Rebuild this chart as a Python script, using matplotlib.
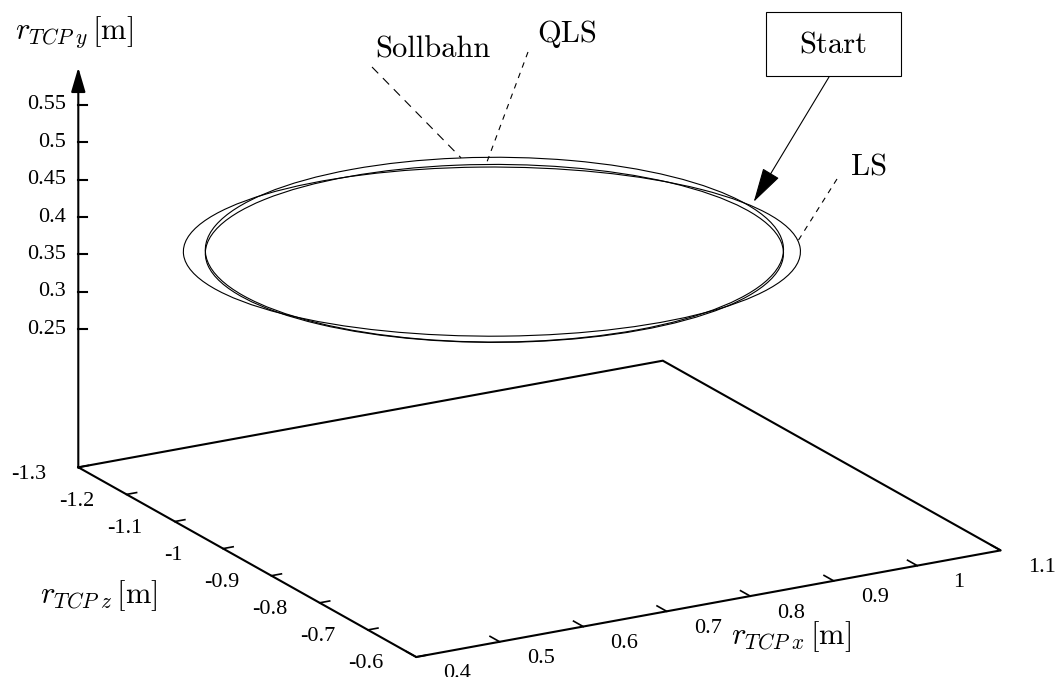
import numpy as np
import matplotlib
matplotlib.use("Agg")
import matplotlib.pyplot as plt
from matplotlib.patches import Ellipse, Rectangle
from matplotlib.transforms import Affine2D

plt.rcParams["mathtext.fontset"] = "cm"

# ----- data
x_ticks = [0.4, 0.5, 0.6, 0.7, 0.8, 0.9, 1.0, 1.1]
x_tick_labels = ["0.4", "0.5", "0.6", "0.7", "0.8", "0.9", "1", "1.1"]
z_ticks = [-1.3, -1.2, -1.1, -1.0, -0.9, -0.8, -0.7, -0.6]
z_tick_labels = ["-1.3", "-1.2", "-1.1", "-1", "-0.9", "-0.8", "-0.7", "-0.6"]
y_ticks = [0.25, 0.3, 0.35, 0.4, 0.45, 0.5, 0.55]
y_tick_labels = ["0.25", "0.3", "0.35", "0.4", "0.45", "0.5", "0.55"]

# TCP paths: ellipses in the x-z plane at height y (angle in the x-z plane, deg)
path_names = ["Sollbahn", "QLS", "LS"]
center_x = [0.696, 0.696, 0.693]
center_y = [0.423, 0.418, 0.421]
center_z = [-0.95, -0.95, -0.95]
radius_x = [0.301, 0.300, 0.320]
radius_z = [0.296, 0.286, 0.272]
path_angle = [0.0, 22.0, 27.4]

# ----- projection (screen pixels), gnuplot-like oblique view
X_MIN, X_MAX = 0.4, 1.1
Z_MIN, Z_MAX = -1.3, -0.6
Y_BASE, Y_TOP = 0.0655, 0.6
ORIGIN = (78.3, 467.3)
EX = (835.0, -152.3)    # px per m along x
EZ = (482.7, 271.0)     # px per m along z
PX_PER_M_Y = 748.0


def proj(x, y, z):
    u = ORIGIN[0] + (x - X_MIN) * EX[0] + (z - Z_MIN) * EZ[0]
    v = ORIGIN[1] + (x - X_MIN) * EX[1] + (z - Z_MIN) * EZ[1] - (y - Y_BASE) * PX_PER_M_Y
    return u, v


def plane(y):
    """affine map (x, z) -> screen for the plane at height y"""
    u0, v0 = proj(0.0, y, 0.0)
    return Affine2D(np.array([[EX[0], EZ[0], u0], [EX[1], EZ[1], v0], [0, 0, 1]]))


def on_path(i, theta_deg):
    t = np.radians(theta_deg)
    a = np.radians(path_angle[i])
    dx, dz = radius_x[i] * np.cos(t), radius_z[i] * np.sin(t)
    return proj(center_x[i] + dx * np.cos(a) - dz * np.sin(a), center_y[i],
                center_z[i] + dx * np.sin(a) + dz * np.cos(a))


fig = plt.figure(figsize=(10.59, 6.77), dpi=100)
ax = fig.add_axes([0, 0, 1, 1])
ax.set_xlim(0, 1059)
ax.set_ylim(677, 0)
ax.axis("off")

tick_font = dict(family="Liberation Serif", size=16)
text_font = dict(family="cmr10", size=22)

# floor frame
corners = [(X_MIN, Z_MIN), (X_MIN, Z_MAX), (X_MAX, Z_MAX), (X_MAX, Z_MIN), (X_MIN, Z_MIN)]
frame = [proj(cx, Y_BASE, cz) for cx, cz in corners]
ax.plot([p[0] for p in frame], [p[1] for p in frame], color="black", lw=1.5,
        solid_joinstyle="miter")

# vertical axis with arrow
ax.annotate("", xy=proj(X_MIN, Y_TOP, Z_MIN), xytext=proj(X_MIN, Y_BASE, Z_MIN),
            arrowprops=dict(arrowstyle="-|>,head_length=0.75,head_width=0.22",
                            color="black", lw=1.5, mutation_scale=20,
                            shrinkA=0, shrinkB=0))

for t, lab in zip(y_ticks, y_tick_labels):
    u, v = proj(X_MIN, t, Z_MIN)
    ax.plot([u, u + 9], [v, v], color="black", lw=1.5)
    ax.text(u - 12, v, lab, ha="right", va="center", **tick_font)

for t, lab in zip(x_ticks, x_tick_labels):
    u, v = proj(t, Y_BASE, Z_MAX)
    u2, v2 = proj(t, Y_BASE, Z_MAX - 0.02)
    ax.plot([u, u2], [v, v2], color="black", lw=1.2)
    ax.text(u + 41, v + 17, lab, ha="center", va="center", **tick_font)

for t, lab in zip(z_ticks, z_tick_labels):
    u, v = proj(X_MIN, Y_BASE, t)
    u2, v2 = proj(X_MIN + 0.012, Y_BASE, t)
    ax.plot([u, u2], [v, v2], color="black", lw=1.2)
    ax.text(u - 50, v + 7, lab, ha="center", va="center", **tick_font)

# axis titles
ax.text(74, 32, r"$r_{TCP\;y}\,[\mathrm{m}]$", ha="center", va="center", fontsize=22)
ax.text(99, 596, r"$r_{TCP\;z}\,[\mathrm{m}]$", ha="center", va="center", fontsize=22)
ax.text(791, 637, r"$r_{TCP\;x}\,[\mathrm{m}]$", ha="center", va="center", fontsize=22)

# paths
for i in range(len(path_names)):
    ax.add_patch(Ellipse((center_x[i], center_z[i]), 2 * radius_x[i], 2 * radius_z[i],
                         angle=path_angle[i], fill=False, ec="black", lw=0.8,
                         transform=plane(center_y[i]) + ax.transData))

# labels with leaders
ax.text(375, 58, "Sollbahn", ha="left", va="baseline", **text_font)
ax.plot(*zip((372, 67), on_path(0, -67)), color="black", lw=0.8, ls=(0, (8, 6)))

ax.text(537, 42, "QLS", ha="left", va="baseline", **text_font)
ax.plot(*zip((528, 52), on_path(1, -84)), color="black", lw=0.8, ls=(0, (5, 5)))

ax.text(851, 175, "LS", ha="left", va="baseline", **text_font)
ax.plot(*zip((837, 179), on_path(2, -5)), color="black", lw=0.8, ls=(0, (5, 5)))

# start box + arrow
ax.add_patch(Rectangle((766, 12), 135, 64, fill=False, ec="black", lw=0.8))
ax.text(833.5, 46, "Start", ha="center", va="center", **text_font)
su, sv = on_path(0, 0)
ax.annotate("", xy=(su + 8, sv - 2), xytext=(829, 77),
            arrowprops=dict(arrowstyle="-|>,head_length=1.1,head_width=0.3",
                            color="black", lw=0.8, mutation_scale=20,
                            shrinkA=0, shrinkB=0))

fig.savefig("out.png", dpi=100)
